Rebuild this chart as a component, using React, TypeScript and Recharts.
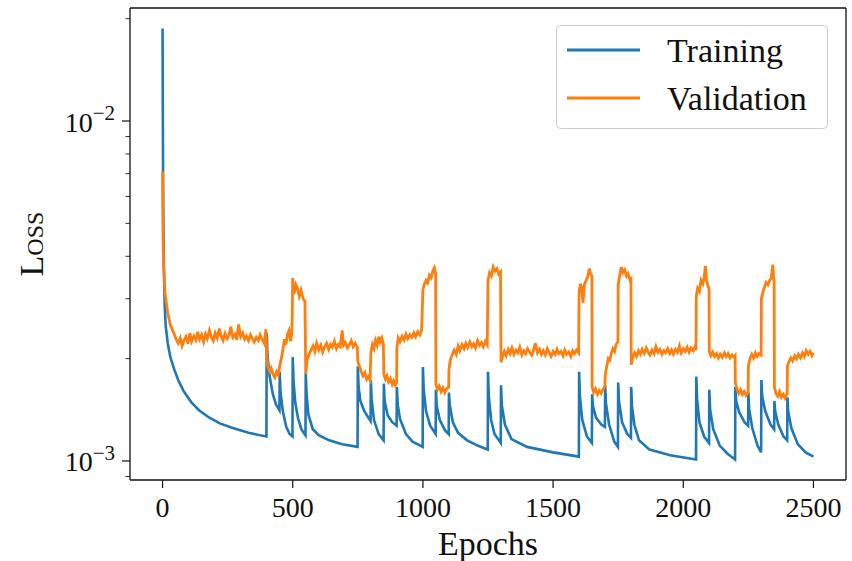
import { LineChart, Line, XAxis, YAxis, Legend } from 'recharts';

// [epoch, loss] pairs
const trainingLoss: [number, number][] = [
  [0, 0.0187], [1, 0.011], [2, 0.0072], [3, 0.0052], [5, 0.0038], [8, 0.0029], [12, 0.0025],
  [20, 0.00222], [30, 0.00202], [45, 0.00186], [60, 0.00173], [80, 0.00161], [110, 0.00149],
  [140, 0.00141], [180, 0.00134], [220, 0.00129], [270, 0.00125], [330, 0.00121], [399, 0.00118],
  [400, 0.00238], [403, 0.00205], [411, 0.00178], [423, 0.00158], [435, 0.00147], [449, 0.00141],
  [450, 0.00183], [453, 0.0016], [462, 0.0014], [475, 0.00126], [488, 0.0012], [499, 0.00118],
  [500, 0.00202], [503, 0.00172], [510, 0.00148], [520, 0.00134], [533, 0.00124], [549, 0.00119],
  [550, 0.00182], [553, 0.00158], [560, 0.00137], [577, 0.00124], [600, 0.00119], [640, 0.00115],
  [690, 0.00112], [749, 0.0011],
  [750, 0.0019], [753, 0.00165], [760, 0.0015], [775, 0.0014], [799, 0.00131],
  [800, 0.00173], [803, 0.00152], [812, 0.00132], [830, 0.0012], [849, 0.00115],
  [850, 0.00169], [853, 0.0015], [865, 0.00136], [882, 0.0013], [899, 0.00127],
  [900, 0.00165], [903, 0.00147], [912, 0.00133], [935, 0.0012], [960, 0.00114], [999, 0.0011],
  [1000, 0.00189], [1003, 0.00162], [1012, 0.0014], [1028, 0.00127], [1049, 0.0012],
  [1050, 0.00162], [1053, 0.00145], [1065, 0.00132], [1085, 0.00123], [1099, 0.0012],
  [1100, 0.00159], [1103, 0.00146], [1115, 0.0013], [1135, 0.00121], [1170, 0.00115], [1210, 0.00111], [1249, 0.00108],
  [1250, 0.00183], [1253, 0.00155], [1262, 0.00132], [1275, 0.0012], [1299, 0.00113],
  [1300, 0.00167], [1303, 0.00146], [1315, 0.00128], [1340, 0.00116], [1400, 0.0011], [1500, 0.00106], [1599, 0.00103],
  [1600, 0.00183], [1603, 0.00155], [1612, 0.00132], [1630, 0.00118], [1649, 0.00113],
  [1650, 0.00157], [1653, 0.00145], [1665, 0.00134], [1685, 0.00128], [1699, 0.00126],
  [1700, 0.00167], [1703, 0.00148], [1715, 0.00128], [1735, 0.00114], [1749, 0.0011],
  [1750, 0.0017], [1753, 0.0015], [1765, 0.0013], [1785, 0.0012], [1799, 0.00117],
  [1800, 0.00165], [1803, 0.00145], [1812, 0.00128], [1830, 0.00115], [1870, 0.00108], [1950, 0.00104], [2049, 0.00101],
  [2050, 0.00177], [2053, 0.00152], [2062, 0.0013], [2080, 0.00118], [2099, 0.00113],
  [2100, 0.00162], [2103, 0.00142], [2115, 0.00124], [2140, 0.00111], [2170, 0.00105], [2199, 0.00101],
  [2200, 0.00165], [2203, 0.0015], [2215, 0.00139], [2235, 0.0013], [2249, 0.00127],
  [2250, 0.00159], [2253, 0.00142], [2265, 0.00125], [2285, 0.00111], [2299, 0.00106],
  [2300, 0.00173], [2303, 0.00155], [2315, 0.0014], [2335, 0.00128], [2349, 0.00124],
  [2350, 0.0015], [2353, 0.0014], [2365, 0.00128], [2385, 0.00118], [2399, 0.00115],
  [2400, 0.00154], [2403, 0.0014], [2415, 0.00125], [2440, 0.00112], [2470, 0.00106], [2500, 0.00103],
];

const validationLoss: [number, number][] = [
  [0, 0.0071], [1, 0.0054], [2, 0.0045], [4, 0.0038], [7, 0.0034], [10, 0.0031], [15, 0.0029],
  [20, 0.00272], [25, 0.00262], [30, 0.00251], [38, 0.00243], [45, 0.00236], [52, 0.00228],
  [60, 0.00222], [68, 0.0023], [75, 0.00218], [82, 0.00226], [90, 0.00232], [98, 0.00221],
  [105, 0.00238], [112, 0.00225], [120, 0.00233], [128, 0.00227], [135, 0.0024], [142, 0.00228],
  [150, 0.00235], [158, 0.00224], [165, 0.00236], [172, 0.00229], [180, 0.00242], [188, 0.00231],
  [195, 0.00226], [202, 0.00238], [210, 0.0023], [218, 0.00245], [225, 0.00233], [232, 0.00226],
  [240, 0.00237], [248, 0.00229], [255, 0.00234], [262, 0.00248], [270, 0.00231], [278, 0.00236],
  [285, 0.00227], [292, 0.00252], [300, 0.00232], [308, 0.00238], [315, 0.00228], [322, 0.00233],
  [330, 0.00226], [338, 0.00235], [345, 0.00229], [352, 0.00224], [360, 0.00231], [368, 0.00226],
  [375, 0.00235], [382, 0.00228], [390, 0.00222], [397, 0.00244],
  [400, 0.00205], [404, 0.0019], [410, 0.00184], [417, 0.00188], [424, 0.0018], [431, 0.00176],
  [438, 0.00183], [444, 0.00179], [450, 0.0019], [456, 0.002], [462, 0.00212], [468, 0.00228],
  [474, 0.0022], [480, 0.00236], [486, 0.00242], [492, 0.00225], [497, 0.00238],
  [500, 0.00345], [505, 0.0031], [512, 0.0033], [518, 0.00322], [525, 0.00305], [532, 0.00318],
  [540, 0.003], [547, 0.00295],
  [550, 0.0018], [555, 0.00198], [562, 0.00205], [570, 0.00212], [578, 0.00218], [585, 0.0021],
  [592, 0.00222], [600, 0.00212], [608, 0.00219], [615, 0.00209], [622, 0.00216], [630, 0.00222],
  [638, 0.00213], [645, 0.0022], [652, 0.00216], [660, 0.00225], [668, 0.00214], [675, 0.0022],
  [682, 0.00217], [690, 0.00242], [695, 0.00219], [702, 0.00223], [710, 0.00215], [718, 0.0022],
  [725, 0.00226], [732, 0.00217], [740, 0.00222], [748, 0.00216],
  [750, 0.00196], [756, 0.0019], [763, 0.00183], [770, 0.00178], [777, 0.00182], [784, 0.00174],
  [790, 0.00177], [797, 0.00173],
  [800, 0.00208], [806, 0.0022], [812, 0.00214], [818, 0.00226], [824, 0.00219], [830, 0.00232],
  [836, 0.00224], [842, 0.0023], [848, 0.00221],
  [850, 0.0018], [856, 0.00174], [862, 0.00178], [868, 0.00171], [875, 0.00175], [882, 0.00168],
  [888, 0.00172], [894, 0.00167], [899, 0.0017],
  [900, 0.00215], [905, 0.0023], [912, 0.00224], [920, 0.00233], [928, 0.00227], [935, 0.00236],
  [942, 0.00229], [950, 0.00235], [958, 0.00231], [965, 0.00238], [972, 0.00232], [980, 0.0024],
  [988, 0.00235], [995, 0.00243],
  [1000, 0.00318], [1005, 0.0033], [1012, 0.0034], [1018, 0.00334], [1025, 0.00352], [1032, 0.00346],
  [1038, 0.00362], [1044, 0.0037], [1049, 0.00355],
  [1050, 0.00168], [1056, 0.00162], [1063, 0.00166], [1070, 0.0016], [1077, 0.00164], [1084, 0.00159],
  [1091, 0.00163], [1099, 0.00165],
  [1100, 0.00185], [1105, 0.00198], [1112, 0.00205], [1120, 0.00212], [1128, 0.00206], [1135, 0.00218],
  [1142, 0.00211], [1150, 0.0022], [1158, 0.00214], [1165, 0.00222], [1172, 0.00216], [1180, 0.00224],
  [1188, 0.00217], [1195, 0.00221], [1202, 0.00215], [1210, 0.00226], [1218, 0.00219], [1225, 0.00223],
  [1232, 0.00217], [1240, 0.00225], [1247, 0.0022],
  [1250, 0.0034], [1256, 0.00358], [1263, 0.0035], [1270, 0.00372], [1277, 0.00362], [1284, 0.00368],
  [1291, 0.00355], [1298, 0.0036],
  [1300, 0.00195], [1306, 0.00203], [1313, 0.0021], [1320, 0.00204], [1328, 0.00213], [1335, 0.00207],
  [1342, 0.00215], [1350, 0.00206], [1358, 0.00212], [1365, 0.00208], [1372, 0.00216], [1380, 0.00205],
  [1388, 0.00211], [1395, 0.00207], [1402, 0.00214], [1410, 0.00209], [1418, 0.00205], [1425, 0.00212],
  [1432, 0.00222], [1440, 0.00208], [1448, 0.00213], [1455, 0.00206], [1462, 0.00211], [1470, 0.00205],
  [1478, 0.00214], [1485, 0.00208], [1492, 0.00203], [1500, 0.0021], [1508, 0.00206], [1515, 0.00213],
  [1522, 0.00207], [1530, 0.0021], [1538, 0.00204], [1545, 0.00212], [1552, 0.00206], [1560, 0.00209],
  [1568, 0.00203], [1575, 0.00211], [1582, 0.00207], [1590, 0.00212], [1598, 0.00208],
  [1600, 0.00315], [1605, 0.00332], [1610, 0.00322], [1615, 0.00292], [1620, 0.0033], [1627, 0.0034],
  [1633, 0.00348], [1639, 0.00368], [1644, 0.00355], [1649, 0.0035],
  [1650, 0.00165], [1656, 0.00159], [1663, 0.00163], [1670, 0.00157], [1677, 0.00161], [1684, 0.00158],
  [1691, 0.00162], [1699, 0.00166],
  [1700, 0.00178], [1706, 0.0019], [1712, 0.002], [1718, 0.00198], [1724, 0.00208], [1730, 0.00214],
  [1736, 0.0021], [1742, 0.0022], [1749, 0.00224],
  [1750, 0.0033], [1755, 0.00348], [1762, 0.00372], [1768, 0.00358], [1775, 0.00365], [1782, 0.0035],
  [1788, 0.00356], [1795, 0.00342], [1799, 0.00348],
  [1800, 0.00192], [1806, 0.00202], [1813, 0.00208], [1820, 0.00203], [1828, 0.00211], [1835, 0.00206],
  [1842, 0.00213], [1850, 0.00207], [1858, 0.00215], [1865, 0.00209], [1872, 0.00205], [1880, 0.00212],
  [1888, 0.00207], [1895, 0.00217], [1902, 0.00209], [1910, 0.00213], [1918, 0.00206], [1925, 0.00211],
  [1932, 0.00208], [1940, 0.00214], [1948, 0.00207], [1955, 0.00212], [1962, 0.00206], [1970, 0.00213],
  [1978, 0.00209], [1985, 0.00218], [1992, 0.00208], [2000, 0.00214], [2008, 0.0021], [2015, 0.00216],
  [2022, 0.00209], [2030, 0.00215], [2038, 0.00211], [2045, 0.00217], [2049, 0.00212],
  [2050, 0.00305], [2055, 0.00322], [2062, 0.00315], [2068, 0.0034], [2075, 0.00332], [2080, 0.00345],
  [2085, 0.00375], [2089, 0.0034], [2094, 0.0033], [2099, 0.0032],
  [2100, 0.0021], [2106, 0.00204], [2113, 0.00209], [2120, 0.00203], [2128, 0.00207], [2135, 0.00201],
  [2142, 0.00206], [2150, 0.00202], [2158, 0.00208], [2165, 0.00203], [2172, 0.00207], [2180, 0.00201],
  [2188, 0.00205], [2195, 0.00202], [2199, 0.00204],
  [2200, 0.0017], [2206, 0.00163], [2213, 0.00158], [2220, 0.00162], [2227, 0.00157], [2234, 0.0016],
  [2241, 0.00156], [2249, 0.00159],
  [2250, 0.0019], [2256, 0.002], [2263, 0.00206], [2270, 0.00201], [2277, 0.00208], [2284, 0.00203],
  [2291, 0.00207], [2299, 0.00205],
  [2300, 0.003], [2305, 0.00312], [2312, 0.00325], [2318, 0.00335], [2325, 0.0033], [2332, 0.0034],
  [2338, 0.00345], [2344, 0.00378], [2347, 0.00345], [2349, 0.0034],
  [2350, 0.00165], [2356, 0.00158], [2363, 0.00155], [2370, 0.0016], [2377, 0.00154], [2384, 0.00157],
  [2391, 0.00153], [2399, 0.00158],
  [2400, 0.0019], [2406, 0.00196], [2413, 0.00201], [2420, 0.00197], [2428, 0.00204], [2435, 0.002],
  [2442, 0.00206], [2450, 0.00201], [2458, 0.00208], [2465, 0.00203], [2472, 0.00211], [2480, 0.00206],
  [2487, 0.0021], [2494, 0.00204], [2500, 0.00208],
];

const xTicks = [0, 500, 1000, 1500, 2000, 2500];
const yTicks = [0.0009, 0.001, 0.002, 0.003, 0.004, 0.005, 0.006, 0.007, 0.008, 0.009, 0.01, 0.02];
const seriesNames = ['Training', 'Validation'];
const seriesColors = ['#1f77b4', '#ff7f0e'];

const FONT = '"Liberation Serif", "Times New Roman", serif';
const INK = '#111';

const trainData = trainingLoss.map(([epoch, loss]) => ({ epoch, loss }));
const valData = validationLoss.map(([epoch, loss]) => ({ epoch, loss }));

function XTick({ x, y, payload }: any) {
  return (
    <g>
      <line x1={x} x2={x} y1={y} y2={y + 8} stroke={INK} strokeWidth={1.2} />
      <text x={x} y={y + 37} textAnchor="middle" fontFamily={FONT} fontSize={28} fill={INK}>
        {payload.value}
      </text>
    </g>
  );
}

function YTick({ x, y, payload }: any) {
  const lg = Math.log10(payload.value);
  const exp = Math.round(lg);
  const major = Math.abs(lg - exp) < 1e-6;
  return (
    <g>
      <line x1={x - (major ? 8 : 4.5)} x2={x} y1={y} y2={y} stroke={INK} strokeWidth={major ? 1.2 : 0.9} />
      {major && (
        <text x={x - 15} y={y + 10.5} textAnchor="end" fontFamily={FONT} fontSize={28} fill={INK}>
          10
          <tspan dy={-11.5} fontSize={21}>
            {'\u2212' + -exp}
          </tspan>
        </text>
      )}
    </g>
  );
}

function LegendBox() {
  return (
    <svg width={272} height={104} style={{ display: 'block' }}>
      <rect x={0.5} y={0.5} width={271} height={103} rx={4} fill="#fff" fillOpacity={0.8} stroke="#cccccc" />
      {seriesNames.map((name, i) => (
        <g key={name}>
          <line x1={11} x2={84} y1={25 + i * 48} y2={25 + i * 48} stroke={seriesColors[i]} strokeWidth={3} />
          <text x={111} y={37 + i * 48} fontFamily={FONT} fontSize={34} fill={INK}>
            {name}
          </text>
        </g>
      ))}
    </svg>
  );
}

export default function App() {
  return (
    <div style={{ position: 'absolute', left: 0, top: 0, background: '#fff' }}>
      <LineChart width={852} height={561} margin={{ top: 7, right: 5, left: 0, bottom: 0 }}>
        <XAxis
          dataKey="epoch"
          type="number"
          domain={[-125, 2625]}
          allowDataOverflow
          ticks={xTicks}
          interval={0}
          height={81}
          tickSize={0}
          tickMargin={0}
          tickLine={false}
          tick={<XTick />}
          axisLine={{ stroke: INK, strokeWidth: 1.3 }}
          label={({ viewBox }: any) => (
            <text
              x={viewBox.x + viewBox.width / 2}
              y={viewBox.y + 75}
              textAnchor="middle"
              fontFamily={FONT}
              fontSize={34}
              fill={INK}
            >
              Epochs
            </text>
          )}
        />
        <XAxis
          xAxisId="top"
          orientation="top"
          type="number"
          domain={[0, 1]}
          height={1}
          ticks={[]}
          tick={false}
          tickLine={false}
          axisLine={{ stroke: INK, strokeWidth: 1.3 }}
        />
        <YAxis
          type="number"
          scale="log"
          domain={[0.000879, 0.0215]}
          allowDataOverflow
          ticks={yTicks}
          interval={0}
          width={130}
          tickSize={0}
          tickMargin={0}
          tickLine={false}
          tick={<YTick />}
          axisLine={{ stroke: INK, strokeWidth: 1.3 }}
          label={({ viewBox }: any) => {
            const cx = 43;
            const cy = viewBox.y + viewBox.height / 2;
            return (
              <text
                x={cx}
                y={cy}
                transform={`rotate(-90, ${cx}, ${cy})`}
                textAnchor="middle"
                fontFamily={FONT}
                fontSize={34}
                fill={INK}
                style={{ fontVariant: 'small-caps' }}
              >
                Loss
              </text>
            );
          }}
        />
        <YAxis
          yAxisId="right"
          orientation="right"
          type="number"
          domain={[0, 1]}
          width={1}
          ticks={[]}
          tick={false}
          tickLine={false}
          axisLine={{ stroke: INK, strokeWidth: 1.3 }}
        />
        <Line data={trainData} dataKey="loss" name={seriesNames[0]} type="linear" stroke={seriesColors[0]} strokeWidth={2.6} dot={false} isAnimationActive={false} />
        <Line data={valData} dataKey="loss" name={seriesNames[1]} type="linear" stroke={seriesColors[1]} strokeWidth={2.8} dot={false} isAnimationActive={false} />
        <Legend
          layout="horizontal"
          verticalAlign="middle"
          align="center"
          wrapperStyle={{ left: 556, top: 25, width: 272, height: 104 }}
          content={() => <LegendBox />}
        />
      </LineChart>
    </div>
  );
}
